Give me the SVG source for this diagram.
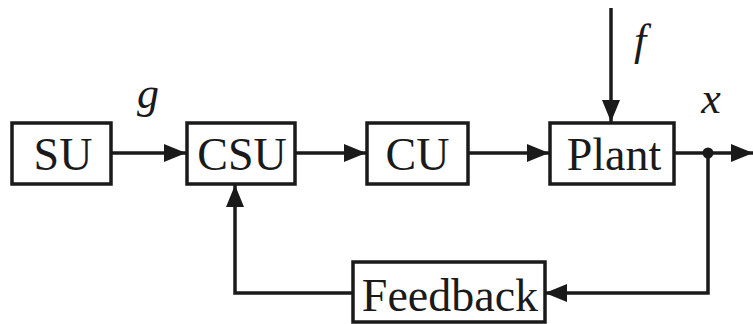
<svg xmlns="http://www.w3.org/2000/svg" width="753" height="324" viewBox="0 0 753 324">
<style>
.box{fill:#fff;stroke:#1a1a1a;stroke-width:3.5}
.t{font-family:"Liberation Serif","Times New Roman",serif;font-size:46px;fill:#1a1a1a;text-anchor:middle}
.v{font-family:"Liberation Serif","Times New Roman",serif;font-size:44px;font-style:italic;fill:#1a1a1a;text-anchor:middle}
.ln{fill:none;stroke:#1a1a1a;stroke-width:3.5}
</style>
<defs>
<marker id="ah" markerWidth="22" markerHeight="18" refX="22" refY="9" orient="auto" markerUnits="userSpaceOnUse">
<path d="M0,0 L22,9 L0,18 z" fill="#1a1a1a"/>
</marker>
</defs>
<g id="connectors">
<line class="ln" x1="112" y1="153" x2="186" y2="153" marker-end="url(#ah)"/>
<line class="ln" x1="295" y1="153" x2="366" y2="153" marker-end="url(#ah)"/>
<line class="ln" x1="468" y1="153" x2="549" y2="153" marker-end="url(#ah)"/>
<line class="ln" x1="674" y1="153" x2="753" y2="153" marker-end="url(#ah)"/>
<line class="ln" x1="611" y1="8" x2="611" y2="122" marker-end="url(#ah)"/>
<polyline class="ln" points="708,153 708,293 545,293" marker-end="url(#ah)"/>
<polyline class="ln" points="353,293 235,293 235,185" marker-end="url(#ah)"/>
<circle cx="708" cy="153" r="5.5" fill="#1a1a1a"/>
</g>
<g id="SU"><rect class="box" x="12" y="123" width="99" height="61"/><text class="t" x="63" y="170">SU</text></g>
<g id="CSU"><rect class="box" x="187" y="123" width="108" height="61"/><text class="t" x="242" y="170">CSU</text></g>
<g id="CU"><rect class="box" x="367" y="123" width="101" height="61"/><text class="t" x="417.5" y="170">CU</text></g>
<g id="Plant"><rect class="box" x="550" y="123" width="124" height="61"/><text class="t" x="614" y="170">Plant</text></g>
<g id="Feedback"><rect class="box" x="353" y="262" width="192" height="60"/><text class="t" x="450" y="311">Feedback</text></g>
<g id="labels">
<text class="v" x="148" y="108">g</text>
<text class="v" x="640" y="55">f</text>
<text class="v" x="711" y="113">x</text>
</g>
</svg>
